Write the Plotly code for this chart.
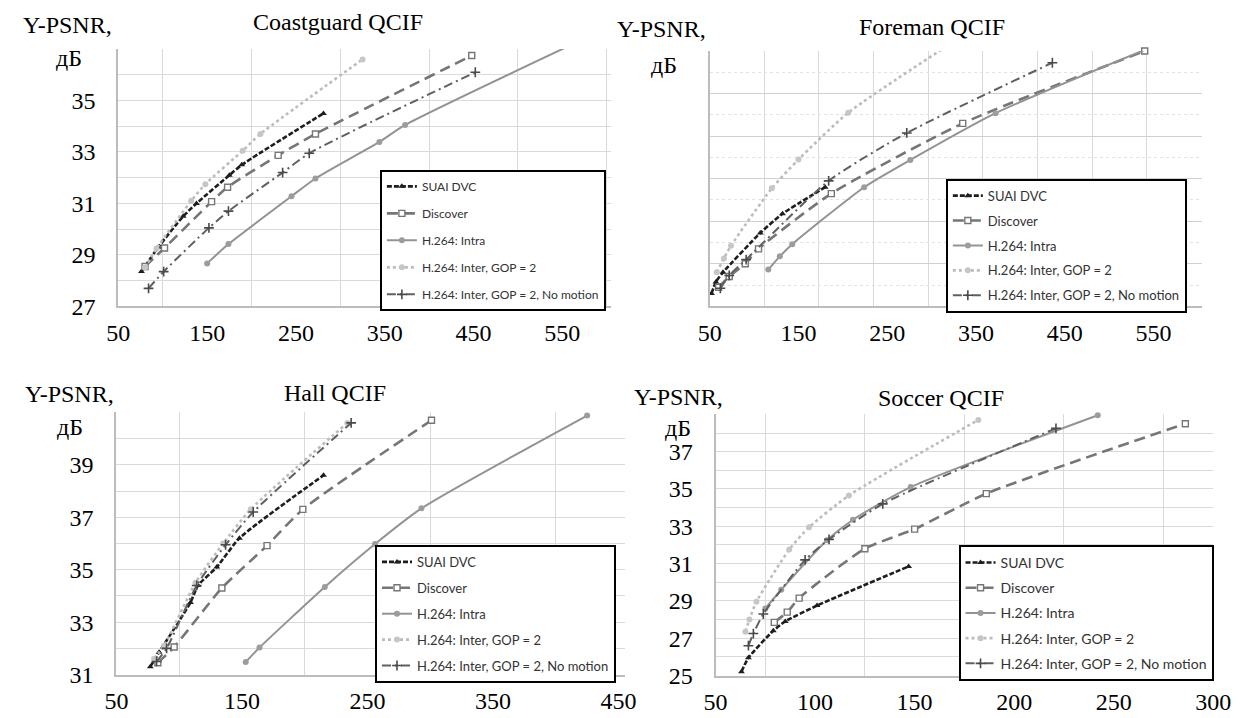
import plotly.graph_objects as go

W, H = 1240, 718

SERIES = ["SUAI DVC", "Discover", "H.264: Intra", "H.264: Inter, GOP = 2",
          "H.264: Inter, GOP = 2, No motion"]

# ---------------- Coastguard QCIF ----------------
cg_suai_x = [76, 95, 123, 138, 175, 189, 281]
cg_suai_y = [28.35, 29.3, 30.5, 31.0, 32.1, 32.5, 34.5]
cg_disc_x = [80, 102, 155, 173, 230, 272, 448]
cg_disc_y = [28.55, 29.27, 31.07, 31.63, 32.87, 33.7, 36.75]
cg_intra_x = [150, 174, 245, 272, 344, 373, 553]
cg_intra_y = [28.67, 29.42, 31.28, 31.97, 33.39, 34.05, 37.05]
cg_inter_x = [80, 93, 132, 148, 190, 210, 325]
cg_inter_y = [28.5, 29.25, 31.1, 31.75, 33.05, 33.7, 36.6]
cg_nomo_x = [84, 101, 152, 174, 235, 265, 452]
cg_nomo_y = [27.7, 28.35, 30.05, 30.7, 32.2, 32.95, 36.1]

# ---------------- Foreman QCIF ----------------
fm_suai_x = [52, 57, 65, 107, 132, 180]
fm_suai_y = [28.6, 29.15, 29.6, 31.45, 32.35, 33.6]
fm_disc_x = [60, 72, 90, 105, 187, 335, 540]
fm_disc_y = [28.9, 29.4, 30.0, 30.7, 33.3, 36.6, 40.0]
fm_intra_x = [116, 129, 143, 224, 276, 372, 553]
fm_intra_y = [29.73, 30.35, 30.92, 33.6, 34.88, 37.08, 40.28]
fm_inter_x = [58, 66, 74, 120, 150, 206, 316]
fm_inter_y = [29.6, 30.25, 30.85, 33.55, 34.9, 37.1, 40.2]
fm_nomo_x = [62, 72, 91, 184, 272, 436]
fm_nomo_y = [28.85, 29.45, 30.2, 33.9, 36.15, 39.45]

# ---------------- Hall QCIF ----------------
hl_suai_x = [77, 84, 109, 115, 130, 148, 215]
hl_suai_y = [31.3, 31.85, 33.75, 34.4, 35.1, 36.2, 38.6]
hl_disc_x = [83, 96, 134, 170, 198.5, 301]
hl_disc_y = [31.45, 32.05, 34.3, 35.92, 37.3, 40.7]
hl_intra_x = [153, 164, 216, 256, 293, 425]
hl_intra_y = [31.48, 32.03, 34.34, 35.98, 37.34, 40.88]
hl_inter_x = [80, 88, 113, 135, 157, 234]
hl_inter_y = [31.6, 32.1, 34.5, 36.0, 37.3, 40.6]
hl_nomo_x = [82, 90, 114, 137, 159, 237]
hl_nomo_y = [31.5, 32.0, 34.4, 35.95, 37.2, 40.6]

# ---------------- Soccer QCIF ----------------
sc_suai_x = [63, 66.5, 79, 85, 101, 147]
sc_suai_y = [25.2, 25.95, 27.4, 27.9, 28.75, 30.85]
sc_disc_x = [79.5, 86, 92, 125, 150, 186, 286]
sc_disc_y = [27.85, 28.4, 29.15, 31.8, 32.85, 34.75, 38.5]
sc_intra_x = [75, 83, 106, 119, 148, 242]
sc_intra_y = [28.6, 29.6, 32.25, 33.35, 35.1, 38.95]
sc_inter_x = [65, 67, 70.5, 87, 97, 117, 182]
sc_inter_y = [27.35, 28.0, 28.95, 31.75, 32.95, 34.65, 38.7]
sc_nomo_x = [66.5, 69, 74, 95, 107, 134, 221]
sc_nomo_y = [26.6, 27.25, 28.3, 31.2, 32.3, 34.2, 38.25]

PANELS = [
    ("Coastguard QCIF", [(cg_suai_x, cg_suai_y), (cg_disc_x, cg_disc_y), (cg_intra_x, cg_intra_y),
                         (cg_inter_x, cg_inter_y), (cg_nomo_x, cg_nomo_y)]),
    ("Foreman QCIF", [(fm_suai_x, fm_suai_y), (fm_disc_x, fm_disc_y), (fm_intra_x, fm_intra_y),
                      (fm_inter_x, fm_inter_y), (fm_nomo_x, fm_nomo_y)]),
    ("Hall QCIF", [(hl_suai_x, hl_suai_y), (hl_disc_x, hl_disc_y), (hl_intra_x, hl_intra_y),
                   (hl_inter_x, hl_inter_y), (hl_nomo_x, hl_nomo_y)]),
    ("Soccer QCIF", [(sc_suai_x, sc_suai_y), (sc_disc_x, sc_disc_y), (sc_intra_x, sc_intra_y),
                     (sc_inter_x, sc_inter_y), (sc_nomo_x, sc_nomo_y)]),
]

STYLES = [
    dict(line=dict(color="#1e1e1e", dash="5px,2px", width=2.6),
         marker=dict(symbol="triangle-up", size=6, color="#1e1e1e")),
    dict(line=dict(color="#767676", dash="11px,6px", width=2.6),
         marker=dict(symbol="square", size=6, color="white", line=dict(color="#767676", width=1.4))),
    dict(line=dict(color="#939393", dash="solid", width=2),
         marker=dict(symbol="circle", size=6, color="#9c9c9c")),
    dict(line=dict(color="#bcbcbc", dash="dot", width=2.6),
         marker=dict(symbol="circle", size=6, color="#c6c6c6")),
    dict(line=dict(color="#606060", dash="9px,4px,2px,4px", width=2),
         marker=dict(symbol="cross-thin", size=7, color="#4a4a4a", line=dict(color="#4a4a4a", width=1.6))),
]

# plot-area pixel boxes (left, right, top, bottom)
BOX = [(109, 614, 50, 312), (715, 1219, 52, 312), (107, 628, 420, 687), (721, 1231, 422, 688)]
XR = [[50, 605], [50, 604], [50, 455], [50, 300]]
YR = [[27, 37], [28, 40], [31, 41], [25, 39]]
# legend: left, top, font size, gap
LEG = [(377, 173, 12, 8), (957, 182, 13, 5), (372, 555, 13, 6), (970, 555, 14, 4)]

SERIF = "Liberation Serif, Times New Roman, serif"
LEGFONT = "Lato, Roboto, Liberation Sans, sans-serif"
GRID = "#dadada"
AXLINE = "#bcbcbc"

fig = go.Figure()

for p, (title, data) in enumerate(PANELS):
    n = "" if p == 0 else str(p + 1)
    leg = "legend" if p == 0 else f"legend{p + 1}"
    for s, (xs, ys) in enumerate(data):
        st = STYLES[s]
        fig.add_trace(go.Scatter(
            x=xs, y=ys, name=SERIES[s], mode="lines+markers",
            line=dict(shape="spline", smoothing=0.6, **st["line"]),
            marker=st["marker"], cliponaxis=False,
            xaxis="x" + n, yaxis="y" + n, legend=leg, legendgroup=f"{p}-{s}",
        ))

layout = dict(width=W, height=H, margin=dict(l=0, r=0, t=0, b=0),
              paper_bgcolor="white", plot_bgcolor="white", showlegend=True)

x_ticks = [
    dict(tickmode="linear", tick0=50, dtick=100, showgrid=False,
         minor=dict(tickmode="linear", tick0=50, dtick=50, showgrid=True, gridcolor=GRID)),
    dict(tickmode="linear", tick0=50, dtick=100, showgrid=False,
         minor=dict(tickmode="linear", tick0=50, dtick=61.55, showgrid=True, gridcolor=GRID)),
    dict(tickmode="linear", tick0=50, dtick=100, showgrid=False,
         minor=dict(tickmode="linear", tick0=50, dtick=50, showgrid=True, gridcolor=GRID)),
    dict(tickmode="linear", tick0=50, dtick=50, showgrid=False,
         minor=dict(tickmode="linear", tick0=50, dtick=25, showgrid=True, gridcolor=GRID)),
]
y_ticks = [
    dict(tickmode="array", tickvals=[27, 29, 31, 33, 35], showgrid=False,
         minor=dict(tickmode="linear", tick0=27, dtick=1, showgrid=True, gridcolor=GRID)),
    dict(tickmode="linear", tick0=28, dtick=2, showticklabels=False, showgrid=True, gridcolor="#d0d0d0",
         minor=dict(tickmode="linear", tick0=28, dtick=1, showgrid=True, gridcolor="#e2e2e2", griddash="dot")),
    dict(tickmode="array", tickvals=[31, 33, 35, 37, 39], showgrid=False,
         minor=dict(tickmode="linear", tick0=31, dtick=1, showgrid=True, gridcolor=GRID)),
    dict(tickmode="array", tickvals=[25, 27, 29, 31, 33, 35, 37], showgrid=False,
         minor=dict(tickmode="linear", tick0=25, dtick=1, showgrid=True, gridcolor=GRID)),
]

for p in range(4):
    n = "" if p == 0 else str(p + 1)
    l, r, t, b = BOX[p]
    xa = dict(domain=[l / W, r / W], range=XR[p], anchor="y" + n,
              showline=True, linecolor=AXLINE, linewidth=2, zeroline=False,
              ticks="outside", ticklen=4, tickcolor="rgba(0,0,0,0)",
              tickfont=dict(family=SERIF, size=24, color="black"))
    xa.update(x_ticks[p])
    ya = dict(domain=[1 - b / H, 1 - t / H], range=YR[p], anchor="x" + n,
              showline=True, linecolor=AXLINE, linewidth=2, zeroline=False,
              ticks="outside", ticklen=16, tickcolor="rgba(0,0,0,0)",
              tickfont=dict(family=SERIF, size=24, color="black"))
    ya.update(y_ticks[p])
    layout["xaxis" + n] = xa
    layout["yaxis" + n] = ya
    lx, ly, fs, gap = LEG[p]
    layout["legend" if p == 0 else f"legend{p + 1}"] = dict(
        x=lx / W, y=1 - ly / H, xanchor="left", yanchor="top",
        bgcolor="white", bordercolor="black", borderwidth=2,
        font=dict(family=LEGFONT, size=fs, color="#333333"),
        tracegroupgap=gap, itemwidth=30)

fig.update_layout(**layout)

# titles and axis captions
TXT = [
    ("Coastguard QCIF", 334, 22), ("Foreman QCIF", 943, 27), ("Hall QCIF", 331, 400), ("Soccer QCIF", 952, 405),
    ("Y-PSNR,", 57, 25), ("дБ", 58, 59), ("Y-PSNR,", 666, 30), ("дБ", 668, 66),
    ("Y-PSNR,", 59, 401), ("дБ", 59, 435), ("Y-PSNR,", 683, 404), ("дБ", 683, 436),
]
for text, x, y in TXT:
    fig.add_annotation(text=text, x=x / W, y=1 - y / H, xref="paper", yref="paper",
                       xanchor="center", yanchor="middle", showarrow=False,
                       font=dict(family=SERIF, size=24, color="black"))

fig.write_html("out.html", config={"displayModeBar": False},
               post_script="document.body.style.margin='0';")
